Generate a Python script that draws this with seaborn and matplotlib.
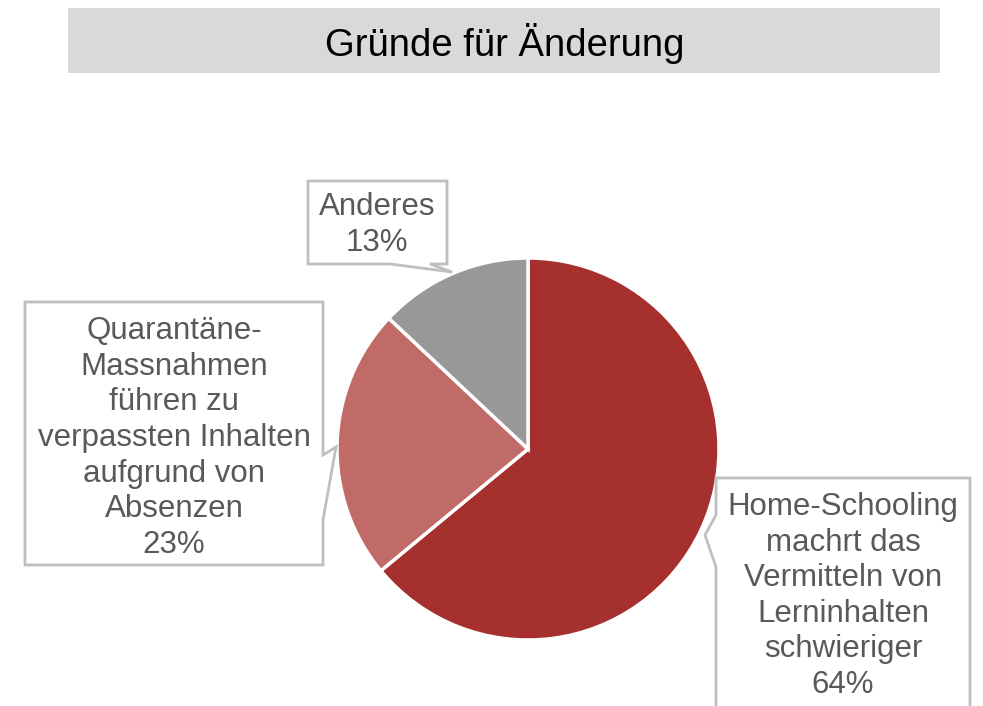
import numpy as np
import pandas as pd
import matplotlib
matplotlib.use("Agg")
import matplotlib.pyplot as plt
from matplotlib.patches import Rectangle, Polygon
import seaborn as sns

sns.set_theme(style="white")
plt.rcParams['font.family'] = ['Liberation Sans', 'DejaVu Sans']

# ---------- data ----------
title = "Gründe für Änderung"
categories = [
    "Home-Schooling\nmachrt das\nVermitteln von\nLerninhalten\nschwieriger",
    "Quarantäne-\nMassnahmen\nführen zu\nverpassten Inhalten\naufgrund von\nAbsenzen",
    "Anderes",
]
shares = [64, 23, 13]
colors = ["#A5302E", "#C06B67", "#989898"]

df = pd.DataFrame({"label": categories, "share": shares, "color": colors})

# ---------- figure (pixel coordinates, y down) ----------
fig = plt.figure(figsize=(9.83, 7.06), dpi=100)
ax = fig.add_axes([0, 0, 1, 1])

# title bar
ax.add_patch(Rectangle((68, 8), 872, 65, facecolor="#D9D9D9", edgecolor="none"))
ax.text(505, 43, title, ha='center', va='center', fontsize=27.5, color='black')

# pie (clockwise from top on screen because y axis is inverted)
ax.pie(df["share"], colors=df["color"], center=(528, 449), radius=191,
       startangle=-90, counterclock=True, frame=True,
       wedgeprops=dict(edgecolor='white', linewidth=2.5))
ax.set_xlim(0, 983)
ax.set_ylim(706, 0)
ax.set_aspect('equal')
ax.axis('off')

# callout boxes with pointers
edge = "#BFBFBF"
callouts = [
    # Home-Schooling
    [(716, 478), (970, 478), (970, 720), (716, 720), (716, 567), (705, 535), (716, 515)],
    # Quarantäne
    [(25, 302), (323, 302), (323, 455), (336, 447), (323, 520), (323, 565), (25, 565)],
    # Anderes
    [(308, 181), (447, 181), (447, 264), (430, 264), (452, 272), (390, 264), (308, 264)],
]
for pts in callouts:
    ax.add_patch(Polygon(pts, closed=True, facecolor='white', edgecolor=edge,
                         linewidth=2, zorder=3))

label_pos = [(843, 596), (174, 438), (377, 225)]
for (x, y), lab, val in zip(label_pos, df["label"], df["share"]):
    ax.text(x, y, f"{lab}\n{val}%", ha='center', va='center', multialignment='center',
            fontsize=22.5, color='#595959', linespacing=1.24, zorder=4)

fig.savefig("out.png", dpi=100)
